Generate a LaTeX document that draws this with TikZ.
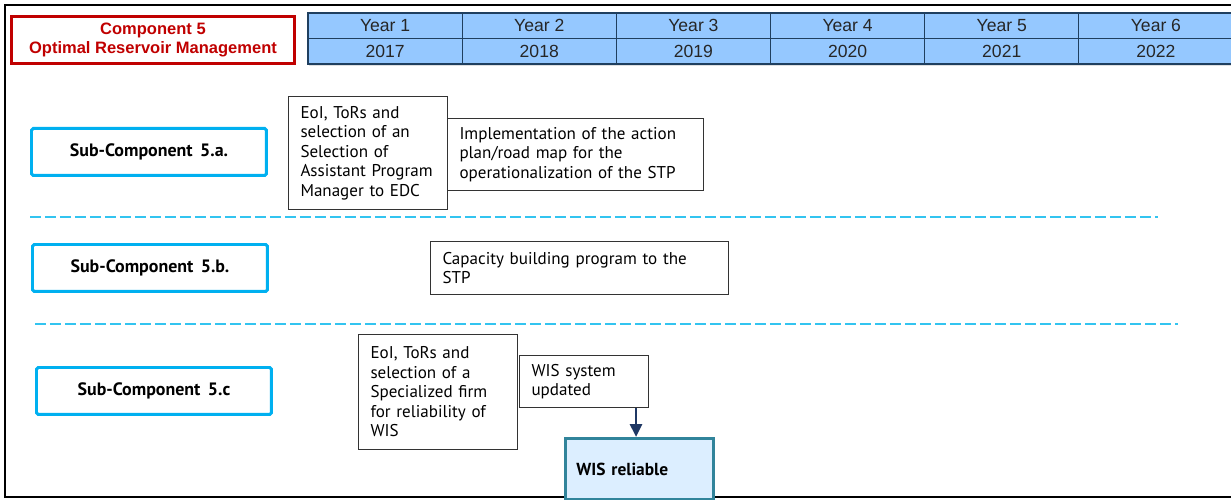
\documentclass[tikz,border=0pt]{standalone}
\usepackage{fontspec}
\setmainfont{Liberation Sans}
\newfontfamily\boxfont{PT Sans}
\usetikzlibrary{positioning,arrows.meta,shadows}
\definecolor{compred}{HTML}{C00000}
\definecolor{yearblue}{HTML}{95C8FF}
\definecolor{yearline}{HTML}{1F3F5F}
\definecolor{subcyan}{HTML}{00B0F0}
\definecolor{dashcyan}{HTML}{33C4F0}
\definecolor{resfill}{HTML}{DCEEFF}
\definecolor{resline}{HTML}{31849B}
\definecolor{arrownavy}{HTML}{1F3864}

\begin{document}
\begin{tikzpicture}[
    x=0.02cm, y=-0.02cm,
    node distance=0pt,
    compbox/.style={
        draw=compred, line width=1.7pt, text=compred, anchor=north west,
        minimum width=5.66cm, minimum height=0.95cm, align=center,
        font=\bfseries\fontsize{9.4}{11}\selectfont
      },
    yearcell/.style={
        draw=yearline, fill=yearblue, line width=0.7pt, text=black!85,
        minimum width=3.084cm, minimum height=0.51cm, inner sep=0pt, outer sep=0pt,
        drop shadow={opacity=0.25, shadow xshift=0.4pt, shadow yshift=-1.2pt},
        font=\fontsize{10}{12}\selectfont
      },
    subbox/.style={
        draw=subcyan, fill=white, line width=1.7pt, rounded corners=1pt, anchor=north west,
        minimum width=4.7cm, minimum height=0.94cm,
        font=\boxfont\bfseries\fontsize{10.2}{12}\selectfont
      },
    actbox/.style={
        draw=black!80, fill=white, line width=0.6pt, anchor=north west, align=left,
        inner xsep=0.24cm, inner ysep=0pt,
        font=\boxfont\fontsize{9.7}{11.1}\selectfont
      },
    resbox/.style={
        draw=resline, fill=resfill, line width=1.7pt, anchor=north west, align=left,
        inner xsep=0.22cm, inner ysep=0pt,
        font=\boxfont\bfseries\fontsize{9.9}{11}\selectfont
      },
    sepline/.style={
        dashcyan, line width=1.1pt, dash pattern=on 0.22cm off 0.08cm
      },
    flowarrow/.style={
        -{Triangle[length=2.6mm, width=2.4mm]}, arrownavy, line width=1.6pt
      },
  ]
  \useasboundingbox (0,0) rectangle (1231,500);
  \draw[line width=1.2pt] (5,5) rectangle (1240,497);

  % title and time line
  \node[compbox] (comp) at (10,15) {Component 5\\Optimal Reservoir Management};

  \node[yearcell, anchor=north west] (y1) at (308,13) {Year 1};
  \node[yearcell] (y2) [right=of y1] {Year 2};
  \node[yearcell] (y3) [right=of y2] {Year 3};
  \node[yearcell] (y4) [right=of y3] {Year 4};
  \node[yearcell] (y5) [right=of y4] {Year 5};
  \node[yearcell] (y6) [right=of y5] {Year 6};
  \node[yearcell] (d1) [below=of y1] {2017};
  \node[yearcell] (d2) [below=of y2] {2018};
  \node[yearcell] (d3) [below=of y3] {2019};
  \node[yearcell] (d4) [below=of y4] {2020};
  \node[yearcell] (d5) [below=of y5] {2021};
  \node[yearcell] (d6) [below=of y6] {2022};

  % sub-components
  \node[subbox] (suba) at (30,127) {Sub-Component\, 5.a.};
  \node[subbox] (subb) at (31,243) {Sub-Component\, 5.b.};
  \node[subbox] (subc) at (35,366) {Sub-Component\, 5.c};

  \draw[sepline] (30,217) -- (1158,217);
  \draw[sepline] (35,324) -- (1178,324);

  % activities
  \node[actbox, text width=2.70cm, minimum height=2.26cm] (eoia) at (288,96)
    {EoI, ToRs and\\selection of an\\Selection of\\Assistant Program\\Manager to EDC};
  \node[actbox, text width=4.64cm, minimum height=1.44cm] (impl) at (447,118)
    {Implementation of the action\\plan/road map for the\\operationalization of the STP};
  \node[actbox, text width=5.48cm, minimum height=1.06cm] (capb) at (430,241)
    {Capacity building program to the\\STP};
  \node[actbox, text width=2.70cm, minimum height=2.30cm] (eoic) at (358,334)
    {EoI, ToRs and\\selection of a\\Specialized firm\\for reliability of\\WIS};
  \node[actbox, text width=2.10cm, minimum height=1.04cm] (wisupd) at (519,355)
    {WIS system\\updated};
  \node[resbox, text width=2.52cm, minimum height=1.22cm] (wisrel) at (564,437)
    {WIS reliable};

  \draw[flowarrow] ([xshift=-0.26cm]wisupd.south east) -- ([xshift=-0.26cm]wisupd.south east |- wisrel.north);
\end{tikzpicture}
\end{document}
